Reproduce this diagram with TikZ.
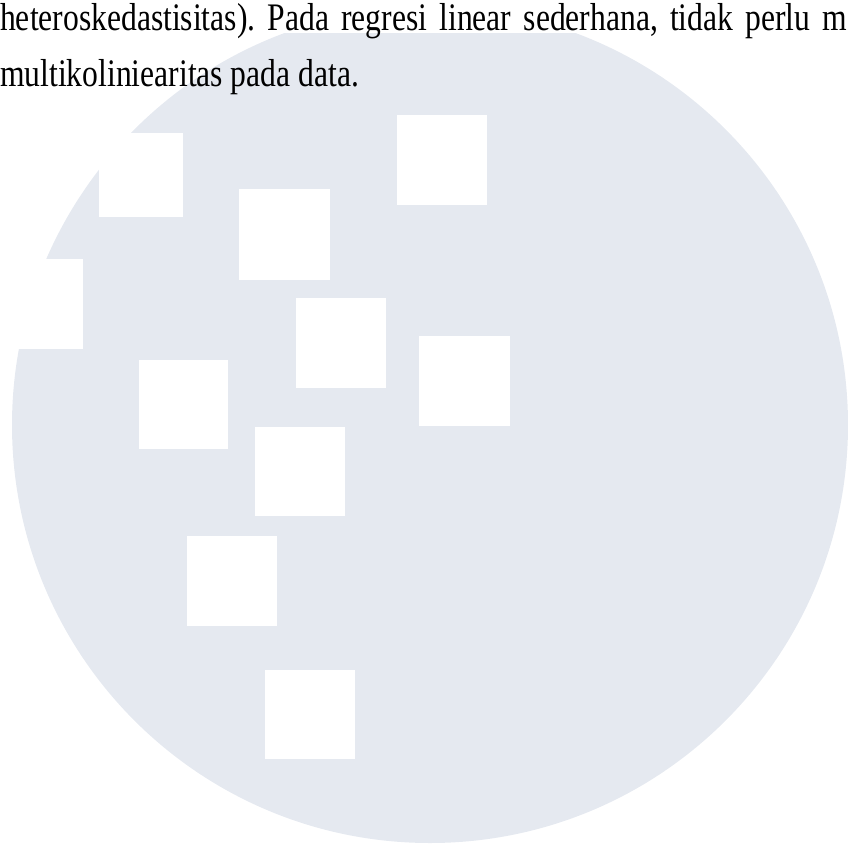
\documentclass[tikz,border=0pt]{standalone}
\usepackage{fontspec}
\setmainfont[FakeStretch=0.81]{Liberation Serif}
\usetikzlibrary{positioning}

\definecolor{disc}{RGB}{229,233,240}

\begin{document}
\frenchspacing
\begin{tikzpicture}[x=1pt, y=-1pt,
    tile/.style={fill=white, draw=none, inner sep=0pt, anchor=north west},
    prose/.style={inner sep=0pt, anchor=base west, font=\fontsize{39}{55}\selectfont}]
    %
    \useasboundingbox (0,0) rectangle (848,846);
    \clip (0,0) rectangle (848,846);
    %
    \begin{scope}
        \clip (0,33) rectangle (848,846);
        \node [circle, fill=disc, minimum size=836pt, inner sep=0pt] (disc) at (430,425) {};
    \end{scope}
    %
    \foreach \n/\x/\y/\w/\h in {a/99/133/84/84, b/239/189/91/91, c/397/115/90/90,
        d/-10/259/93/90, e/296/298/90/90, f/419/336/91/90, g/139/360/89/89,
        h/255/427/90/89, i/187/536/90/90, j/265/670/90/89}
        \node [tile, minimum width=\w pt, minimum height=\h pt] (\n) at (\x,\y) {};
    %
    \node [prose] (top) at (0,30.7) {\makebox[847pt][s]{heteroskedastisitas). Pada regresi linear sederhana, tidak perlu m}};
    \node [prose] (low) at (0,86) {multikoliniearitas pada data.};
\end{tikzpicture}
\end{document}
